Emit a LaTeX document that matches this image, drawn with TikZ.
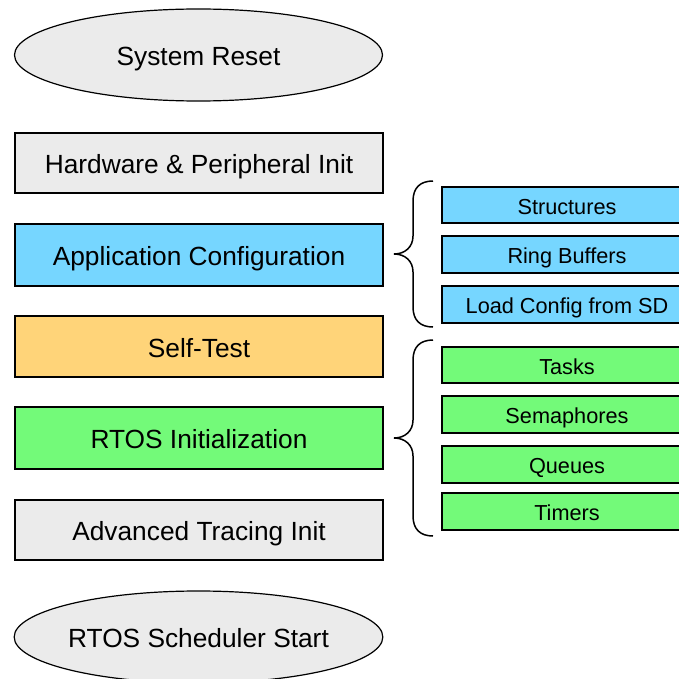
\documentclass[tikz,border=0pt]{standalone}
\usepackage{fontspec}
\setmainfont{Liberation Sans}
\usetikzlibrary{shapes.geometric}

\definecolor{stepgray}{HTML}{EBEBEB}
\definecolor{cfgblue}{HTML}{76D6FF}
\definecolor{testorange}{HTML}{FFD479}
\definecolor{rtosgreen}{HTML}{73FA79}

\tikzset{
  bigtext/.style={font=\fontsize{26.3}{30}\selectfont, text height=21.4pt, text depth=0pt},
  smalltext/.style={font=\fontsize{21.7}{25}\selectfont, text height=18.2pt, text depth=0pt},
  terminal/.style={ellipse, draw=black, line width=1.2pt, fill=stepgray,
    minimum width=368pt, minimum height=92pt, inner sep=0pt, bigtext},
  stagebox/.style={rectangle, draw=black, line width=1.6pt,
    minimum width=368pt, minimum height=60pt, inner sep=0pt, bigtext},
  subbox/.style={rectangle, draw=black, line width=1.6pt,
    minimum width=250pt, minimum height=36pt, inner sep=0pt, smalltext},
  bracepath/.style={draw=black, line width=1.5pt}
}

\begin{document}
\begin{tikzpicture}[x=1pt, y=-1pt]
  \useasboundingbox (0,0) rectangle (679,679);
  \clip (0,0) rectangle (679,679);
  \fill[white] (0,0) rectangle (679,679);

  % main start-up sequence
  \node[terminal] (reset) at (198.5,55) {System Reset};
  \node[stagebox, fill=stepgray] (hw) at (199,163) {Hardware \& Peripheral Init};
  \node[stagebox, fill=cfgblue, minimum height=62pt] (app) at (199,255) {Application Configuration};
  \node[stagebox, fill=testorange, minimum height=61pt] (self) at (199,346.5) {Self-Test};
  \node[stagebox, fill=rtosgreen, minimum height=62pt] (rtos) at (199,438) {RTOS Initialization};
  \node[stagebox, fill=stepgray] (adv) at (199,530) {Advanced Tracing Init};
  \node[terminal] (sched) at (198.5,637) {RTOS Scheduler Start};

  % application configuration details
  \node[subbox, fill=cfgblue] (struct) at (567,205) {Structures};
  \node[subbox, fill=cfgblue, minimum height=37pt] (ring) at (567,254.5) {Ring Buffers};
  \node[subbox, fill=cfgblue, minimum height=37pt] (load) at (567,304.5) {Load Config from SD};

  % RTOS object creation details
  \node[subbox, fill=rtosgreen] (tasks) at (567,365) {Tasks};
  \node[subbox, fill=rtosgreen, minimum height=37pt] (sema) at (567,414.5) {Semaphores};
  \node[subbox, fill=rtosgreen, minimum height=37pt] (queues) at (567,464.5) {Queues};
  \node[subbox, fill=rtosgreen, minimum height=37pt] (timers) at (567,511.5) {Timers};

  % curly braces grouping the detail boxes
  \coordinate (cbtop) at (433,181);
  \coordinate (cbtip) at (394,254);
  \coordinate (cbbot) at (433,327);
  \path[bracepath] (cbtop) .. controls (420,181) and (413,188) .. (413,201)
    -- (413,236) .. controls (413,247) and (405,254) .. (cbtip)
    .. controls (405,254) and (413,261) .. (413,272)
    -- (413,307) .. controls (413,320) and (420,327) .. (cbbot);

  \coordinate (gbtop) at (433,340);
  \coordinate (gbtip) at (394,438);
  \coordinate (gbbot) at (433,536);
  \path[bracepath] (gbtop) .. controls (420,340) and (413,347) .. (413,360)
    -- (413,420) .. controls (413,431) and (405,438) .. (gbtip)
    .. controls (405,438) and (413,445) .. (413,456)
    -- (413,516) .. controls (413,529) and (420,536) .. (gbbot);
\end{tikzpicture}
\end{document}
